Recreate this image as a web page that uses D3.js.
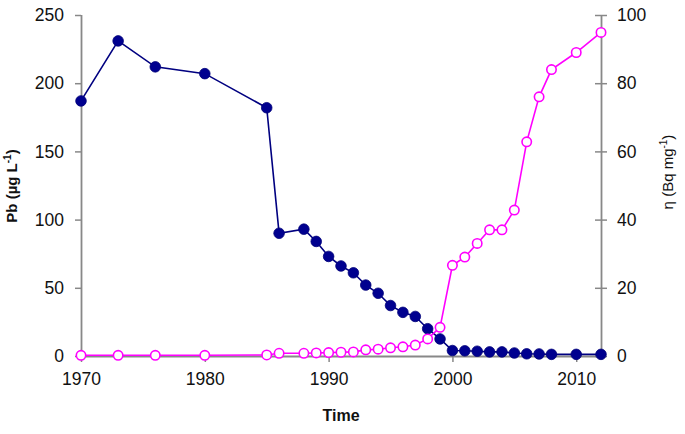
<!DOCTYPE html>
<html>
<head>
<meta charset="utf-8">
<script src="https://cdn.jsdelivr.net/npm/d3@7"></script>
<style>
  body { margin: 0; background: #fff; }
  text { font-family: "Liberation Sans", Arial, sans-serif; }
</style>
</head>
<body>
<svg id="chart" width="685" height="434"></svg>
<script>
// Anni e valori
const pbYears = [1970, 1973, 1976, 1980, 1985, 1986, 1988, 1989, 1990, 1991, 1992, 1993, 1994, 1995,
  1996, 1997, 1998, 1999, 2000, 2001, 2002, 2003, 2004, 2005, 2006, 2007, 2008, 2010, 2012];
const pbValues = [187, 231, 212, 207, 182, 90, 93, 84, 73, 66, 61, 52, 46, 37,
  32, 29, 20, 12.5, 4, 3.8, 3.5, 3, 3, 2.2, 1.6, 1.5, 1.2, 1.2, 1.2];

const etaYears = [1970, 1973, 1976, 1980, 1985, 1986, 1988, 1989, 1990, 1991, 1992, 1993, 1994, 1995,
  1996, 1997, 1998, 1999, 2000, 2001, 2002, 2003, 2004, 2005, 2006, 2007, 2008, 2010, 2012];
const etaValues = [0.2, 0.2, 0.2, 0.2, 0.3, 0.8, 0.8, 0.9, 1.0, 1.1, 1.2, 1.8, 2.0, 2.4,
  2.7, 3.2, 5, 8.4, 26.6, 29, 33, 37, 37, 42.8, 62.8, 76, 84, 89, 94.9];

const xTicks = [1970, 1980, 1990, 2000, 2010];
const leftTicks = [0, 50, 100, 150, 200, 250];
const rightTicks = [0, 20, 40, 60, 80, 100];

const svg = d3.select('#chart');

// Scale
const x = d3.scaleLinear().domain([1970, 2012]).range([81, 601]);
const yL = d3.scaleLinear().domain([0, 250]).range([356, 15]);
const yR = d3.scaleLinear().domain([0, 100]).range([356, 15]);

const axisColor = '#888';

// Asse sinistro
const gl = svg.append('g').attr('transform', 'translate(81,0)')
  .call(d3.axisLeft(yL).tickValues(leftTicks).tickSize(6).tickPadding(11));
// Asse destro (tacche che attraversano l'asse)
const gr = svg.append('g').attr('transform', 'translate(601,0)')
  .call(d3.axisRight(yR).tickValues(rightTicks).tickSize(6).tickPadding(10));
gr.selectAll('.tick line').attr('x1', -6);
// Asse x
const gx = svg.append('g').attr('transform', 'translate(0,356)')
  .call(d3.axisBottom(x).tickValues(xTicks).tickFormat(d3.format('d')).tickSize(6).tickPadding(11));

[gl, gr, gx].forEach(function (g) {
  g.select('.domain').attr('stroke', axisColor).attr('stroke-width', 1.8);
  g.selectAll('.tick line').attr('stroke', axisColor).attr('stroke-width', 1.5);
  g.selectAll('.tick text').attr('fill', '#111').style('font-size', '17.5px')
    .style('font-family', '"Liberation Sans", Arial, sans-serif');
});
gl.select('.domain').attr('d', 'M0.5,15V356');
gr.select('.domain').attr('d', 'M0.5,15V356');
gx.select('.domain').attr('d', 'M81,0.5H601');

// Titoli degli assi
svg.append('text')
  .attr('x', 341).attr('y', 421)
  .attr('text-anchor', 'middle')
  .style('font-size', '16px').style('font-weight', 'bold').attr('fill', '#111')
  .text('Time');

const tl = svg.append('text')
  .attr('transform', 'translate(17,186) rotate(-90)')
  .attr('text-anchor', 'middle')
  .style('font-size', '15px').style('font-weight', 'bold').attr('fill', '#111');
tl.append('tspan').text('Pb (µg L');
tl.append('tspan').attr('dy', -6).style('font-size', '10px').text('-1');
tl.append('tspan').attr('dy', 6).text(')');

const tr = svg.append('text')
  .attr('transform', 'translate(673,172) rotate(-90)')
  .attr('text-anchor', 'middle')
  .style('font-size', '15px').attr('fill', '#111');
tr.append('tspan').text('η (Bq mg');
tr.append('tspan').attr('dy', -6).style('font-size', '10px').text('-1');
tr.append('tspan').attr('dy', 6).text(')');

// Serie Pb (cerchi pieni blu)
const pbData = pbYears.map(function (d, i) { return [d, pbValues[i]]; });
svg.append('path')
  .datum(pbData)
  .attr('fill', 'none')
  .attr('stroke', '#000080')
  .attr('stroke-width', 1.6)
  .attr('d', d3.line().x(d => x(d[0])).y(d => yL(d[1])));
svg.append('g').selectAll('circle')
  .data(pbData).join('circle')
  .attr('cx', d => x(d[0]))
  .attr('cy', d => yL(d[1]))
  .attr('r', 5.3)
  .attr('fill', '#00008f')
  .attr('stroke', '#000078')
  .attr('stroke-width', 0.8);

// Serie eta (cerchi vuoti magenta)
const etaData = etaYears.map(function (d, i) { return [d, etaValues[i]]; });
svg.append('path')
  .datum(etaData)
  .attr('fill', 'none')
  .attr('stroke', '#ff00ff')
  .attr('stroke-width', 1.6)
  .attr('d', d3.line().x(d => x(d[0])).y(d => yR(d[1])));
svg.append('g').selectAll('circle')
  .data(etaData).join('circle')
  .attr('cx', d => x(d[0]))
  .attr('cy', d => yR(d[1]))
  .attr('r', 4.7)
  .attr('fill', '#fff')
  .attr('stroke', '#ff00ff')
  .attr('stroke-width', 1.6);
</script>
</body>
</html>
